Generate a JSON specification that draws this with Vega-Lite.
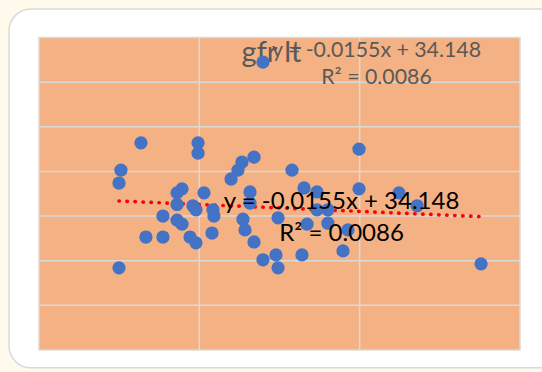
{
  "$schema": "https://vega.github.io/schema/vega-lite/v6.json",
  "autosize": "none",
  "width": 481,
  "height": 312.5,
  "padding": {"left": 39, "top": 37.5, "right": 22, "bottom": 22},
  "background": "#FFFAEB",
  "config": {
    "view": {"stroke": null},
    "axis": {"disable": true},
    "text": {"font": "Lato"}
  },
  "datasets": {
    "patients": [
      {"x": 139.7, "gfr": 64.5}, {"x": 63.6, "gfr": 46.4}, {"x": 99.2, "gfr": 46.4},
      {"x": 99.2, "gfr": 44.1}, {"x": 51.1, "gfr": 40.3}, {"x": 49.9, "gfr": 37.4},
      {"x": 134.1, "gfr": 43.2}, {"x": 126.6, "gfr": 42.1}, {"x": 124.1, "gfr": 40.3},
      {"x": 119.8, "gfr": 38.3}, {"x": 157.8, "gfr": 40.3}, {"x": 199.6, "gfr": 45.0},
      {"x": 89.2, "gfr": 36.1}, {"x": 86.1, "gfr": 35.2}, {"x": 102.9, "gfr": 35.2},
      {"x": 131.6, "gfr": 35.4}, {"x": 131.6, "gfr": 32.9}, {"x": 165.3, "gfr": 36.3},
      {"x": 173.4, "gfr": 35.4}, {"x": 199.6, "gfr": 36.1}, {"x": 224.5, "gfr": 35.2},
      {"x": 235.8, "gfr": 32.3}, {"x": 86.1, "gfr": 32.6}, {"x": 96.0, "gfr": 32.3},
      {"x": 97.9, "gfr": 31.4}, {"x": 108.5, "gfr": 31.4}, {"x": 109.1, "gfr": 30.0},
      {"x": 77.3, "gfr": 30.0}, {"x": 86.1, "gfr": 29.1}, {"x": 89.2, "gfr": 28.2},
      {"x": 66.7, "gfr": 25.3}, {"x": 77.3, "gfr": 25.3}, {"x": 94.2, "gfr": 25.3},
      {"x": 97.9, "gfr": 24.0}, {"x": 107.9, "gfr": 26.2}, {"x": 127.2, "gfr": 29.3},
      {"x": 128.5, "gfr": 26.9}, {"x": 134.1, "gfr": 24.2}, {"x": 149.1, "gfr": 29.6},
      {"x": 173.4, "gfr": 31.4}, {"x": 180.2, "gfr": 31.4}, {"x": 167.2, "gfr": 28.2},
      {"x": 180.2, "gfr": 28.4}, {"x": 192.7, "gfr": 26.9}, {"x": 189.6, "gfr": 22.2},
      {"x": 164.0, "gfr": 21.3}, {"x": 139.7, "gfr": 20.2}, {"x": 147.8, "gfr": 21.3},
      {"x": 149.1, "gfr": 18.4}, {"x": 49.9, "gfr": 18.4}, {"x": 275.7, "gfr": 19.3}
    ],
    "trend": [
      {"x": 49.9, "gfr": 33.375},
      {"x": 275.7, "gfr": 29.875}
    ],
    "xgrid": [{"v": 100}, {"v": 200}],
    "ygrid": [{"v": 10}, {"v": 20}, {"v": 30}, {"v": 40}, {"v": 50}, {"v": 60}],
    "one": [{}]
  },
  "layer": [
    {
      "description": "white chart card with rounded corners",
      "data": {"name": "one"},
      "mark": {"type": "rect", "fill": "#FFFFFF", "stroke": "#D9D9D9", "strokeWidth": 1.5, "cornerRadius": 22},
      "encoding": {
        "x": {"datum": -18.7, "type": "quantitative", "scale": {"domain": [0, 300], "nice": false, "zero": false}},
        "x2": {"datum": 330},
        "y": {"datum": 76.4, "type": "quantitative", "scale": {"domain": [0, 70], "nice": false, "zero": false}},
        "y2": {"datum": -4.0}
      }
    },
    {
      "description": "plot area",
      "data": {"name": "one"},
      "mark": {"type": "rect", "fill": "#F4B183", "stroke": "#D9D9D9", "strokeWidth": 1.5},
      "encoding": {
        "x": {"datum": 0, "type": "quantitative", "scale": {"domain": [0, 300], "nice": false, "zero": false}},
        "x2": {"datum": 300},
        "y": {"datum": 0, "type": "quantitative", "scale": {"domain": [0, 70], "nice": false, "zero": false}},
        "y2": {"datum": 70}
      }
    },
    {
      "data": {"name": "xgrid"},
      "mark": {"type": "rule", "stroke": "#D9D9D9", "strokeWidth": 1.5},
      "encoding": {
        "x": {"field": "v", "type": "quantitative", "scale": {"domain": [0, 300], "nice": false, "zero": false}}
      }
    },
    {
      "data": {"name": "ygrid"},
      "mark": {"type": "rule", "stroke": "#D9D9D9", "strokeWidth": 1.5},
      "encoding": {
        "y": {"field": "v", "type": "quantitative", "scale": {"domain": [0, 70], "nice": false, "zero": false}}
      }
    },
    {
      "description": "chart title",
      "data": {"name": "one"},
      "mark": {"type": "text", "text": "gfr lt", "fontSize": 29, "color": "#595959", "align": "center", "baseline": "alphabetic"},
      "encoding": {
        "x": {"datum": 145.0, "type": "quantitative", "scale": {"domain": [0, 300], "nice": false, "zero": false}},
        "y": {"datum": 64.5, "type": "quantitative", "scale": {"domain": [0, 70], "nice": false, "zero": false}}
      }
    },
    {
      "description": "trendline equation, grey copy",
      "data": {"name": "one"},
      "mark": {"type": "text", "text": ["y = -0.0155x + 34.148", "R² = 0.0086"], "fontSize": 21.3, "lineHeight": 27, "color": "#595959", "align": "center", "baseline": "alphabetic"},
      "encoding": {
        "x": {"datum": 210.5, "type": "quantitative", "scale": {"domain": [0, 300], "nice": false, "zero": false}},
        "y": {"datum": 65.6, "type": "quantitative", "scale": {"domain": [0, 70], "nice": false, "zero": false}}
      }
    },
    {
      "data": {"name": "trend"},
      "mark": {"type": "line", "stroke": "#FF0000", "strokeWidth": 3.7, "strokeCap": "round", "strokeDash": [0.3, 7.7]},
      "encoding": {
        "x": {"field": "x", "type": "quantitative", "scale": {"domain": [0, 300], "nice": false, "zero": false}},
        "y": {"field": "gfr", "type": "quantitative", "scale": {"domain": [0, 70], "nice": false, "zero": false}}
      }
    },
    {
      "data": {"name": "patients"},
      "mark": {"type": "circle", "color": "#4472C4", "opacity": 1, "size": 177},
      "encoding": {
        "x": {"field": "x", "type": "quantitative", "scale": {"domain": [0, 300], "nice": false, "zero": false}},
        "y": {"field": "gfr", "type": "quantitative", "scale": {"domain": [0, 70], "nice": false, "zero": false}}
      }
    },
    {
      "description": "trendline equation label",
      "data": {"name": "one"},
      "mark": {"type": "text", "text": ["y = -0.0155x + 34.148", "R² = 0.0086"], "fontSize": 24, "lineHeight": 31.4, "color": "#000000", "align": "center", "baseline": "alphabetic"},
      "encoding": {
        "x": {"datum": 188.7, "type": "quantitative", "scale": {"domain": [0, 300], "nice": false, "zero": false}},
        "y": {"datum": 31.5, "type": "quantitative", "scale": {"domain": [0, 70], "nice": false, "zero": false}}
      }
    }
  ]
}
